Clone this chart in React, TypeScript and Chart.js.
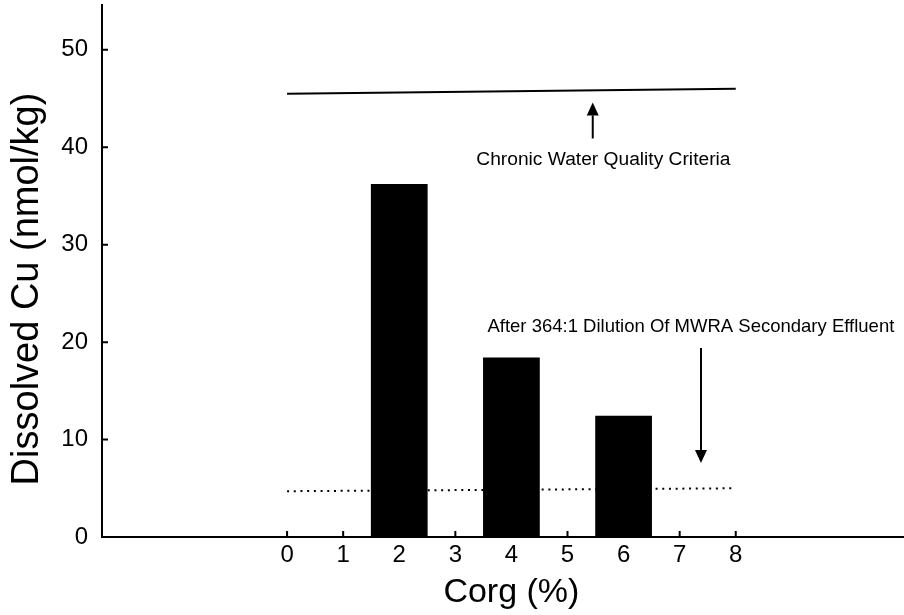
import React, { useEffect, useRef } from "react";
import { Chart, registerables } from "chart.js";

Chart.register(...registerables);

// ---- data ----
const corgValues = [2, 4, 6];
const dissolvedCu = [36.2, 18.4, 12.4];
const xTickValues = [0, 1, 2, 3, 4, 5, 6, 7, 8];
const yTickValues = [0, 10, 20, 30, 40, 50];
const criteriaX = [0, 8];
const criteriaY = [45.5, 46.0];
const effluentX = [0, 8];
const effluentY = [4.7, 5.0];

const xTitle = "Corg (%)";
const yTitle = "Dissolved Cu (nmol/kg)";
const criteriaLabel = "Chronic Water Quality Criteria";
const effluentLabel = "After 364:1 Dilution Of MWRA Secondary Effluent";

// annotation placement (data coordinates) and font size
const annotationLayout = [
  { text: criteriaLabel, size: 19.2, x: 5.64, y: 38.7, arrowX: 5.45, arrowFrom: 40.9, arrowTo: 44.6 },
  { text: effluentLabel, size: 18.5, x: 7.2, y: 21.6, arrowX: 7.38, arrowFrom: 19.4, arrowTo: 7.6 },
];

const FONT = "'Liberation Sans', Arial, Helvetica, sans-serif";

const overlayPlugin = {
  id: "overlay",
  beforeDatasetsDraw(chart: any) {
    const { ctx, chartArea, scales } = chart;
    const xs = scales.x;
    const ys = scales.y;
    ctx.save();
    ctx.strokeStyle = "#000";
    ctx.lineWidth = 2;
    ctx.beginPath();
    xTickValues.forEach((v) => {
      const px = xs.getPixelForValue(v);
      ctx.moveTo(px, chartArea.bottom);
      ctx.lineTo(px, chartArea.bottom - 6);
    });
    yTickValues.forEach((v) => {
      const py = ys.getPixelForValue(v);
      ctx.moveTo(chartArea.left, py);
      ctx.lineTo(chartArea.left + 6, py);
    });
    ctx.stroke();
    ctx.restore();
  },
  afterDraw(chart: any) {
    const { ctx, chartArea, scales } = chart;
    const xs = scales.x;
    const ys = scales.y;
    ctx.save();
    ctx.fillStyle = "#000";
    ctx.strokeStyle = "#000";
    // annotations
    annotationLayout.forEach((a) => {
      ctx.font = `${a.size}px ${FONT}`;
      ctx.textAlign = "center";
      ctx.textBaseline = "middle";
      ctx.fillText(a.text, xs.getPixelForValue(a.x), ys.getPixelForValue(a.y));
      const ax = xs.getPixelForValue(a.arrowX);
      const y0 = ys.getPixelForValue(a.arrowFrom);
      const y1 = ys.getPixelForValue(a.arrowTo);
      const dir = y1 < y0 ? -1 : 1;
      const head = 13;
      ctx.lineWidth = 2;
      ctx.beginPath();
      ctx.moveTo(ax, y0);
      ctx.lineTo(ax, y1 - dir * head);
      ctx.stroke();
      ctx.beginPath();
      ctx.moveTo(ax, y1);
      ctx.lineTo(ax - 6, y1 - dir * head);
      ctx.lineTo(ax + 6, y1 - dir * head);
      ctx.closePath();
      ctx.fill();
    });
    // axis titles
    ctx.font = `34px ${FONT}`;
    ctx.textAlign = "center";
    ctx.textBaseline = "middle";
    ctx.fillText(xTitle, xs.getPixelForValue(4), chartArea.bottom + 56);
    ctx.save();
    ctx.translate(28, (chartArea.top + chartArea.bottom) / 2 + 18);
    ctx.rotate(-Math.PI / 2);
    ctx.font = `38px ${FONT}`;
    ctx.fillText(yTitle, 0, 0);
    ctx.restore();
    ctx.restore();
  },
};

export default function App() {
  const canvasRef = useRef<HTMLCanvasElement | null>(null);

  useEffect(() => {
    document.body.style.margin = "0";
    const canvas = canvasRef.current;
    if (!canvas) return;
    const chart = new Chart(canvas, {
      type: "bar",
      data: {
        datasets: [
          {
            type: "bar",
            data: corgValues.map((x, i) => ({ x, y: dissolvedCu[i] })),
            backgroundColor: "#000",
            borderWidth: 0,
            barPercentage: 1,
            categoryPercentage: 1,
          } as any,
          {
            type: "line",
            data: criteriaX.map((x, i) => ({ x, y: criteriaY[i] })),
            borderColor: "#000",
            borderWidth: 2,
            pointRadius: 0,
            fill: false,
          },
          {
            type: "line",
            data: effluentX.map((x, i) => ({ x, y: effluentY[i] })),
            borderColor: "#000",
            borderWidth: 2,
            borderDash: [2, 4.7],
            pointRadius: 0,
            fill: false,
          },
        ],
      },
      options: {
        responsive: false,
        animation: false,
        devicePixelRatio: 1,
        layout: { padding: { top: 5, right: 0, bottom: 0, left: 0 } },
        plugins: { legend: { display: false }, tooltip: { enabled: false } },
        scales: {
          x: {
            type: "linear",
            min: -3.3,
            max: 11,
            offset: false,
            grid: { display: false, drawTicks: false },
            border: { display: true, color: "#000", width: 2 },
            afterBuildTicks: (scale: any) => {
              scale.ticks = xTickValues.map((v) => ({ value: v }));
            },
            afterFit: (scale: any) => {
              scale.height = 78;
              scale.paddingLeft = 0;
              scale.paddingRight = 0;
              scale.paddingTop = 0;
              scale.paddingBottom = 0;
            },
            ticks: {
              color: "#000",
              font: { family: FONT, size: 24 },
              padding: 4,
              maxRotation: 0,
              autoSkip: false,
            },
          },
          y: {
            type: "linear",
            min: 0,
            max: 54.6,
            grid: { display: false, drawTicks: false },
            border: { display: true, color: "#000", width: 2 },
            afterBuildTicks: (scale: any) => {
              scale.ticks = yTickValues.map((v) => ({ value: v }));
            },
            afterFit: (scale: any) => {
              scale.width = 102;
              scale.paddingLeft = 0;
              scale.paddingRight = 0;
              scale.paddingTop = 0;
              scale.paddingBottom = 0;
            },
            ticks: {
              color: "#000",
              font: { family: FONT, size: 24 },
              padding: 14,
            },
          },
        },
      },
      plugins: [overlayPlugin],
    });
    return () => chart.destroy();
  }, []);

  return (
    <div style={{ width: 904, height: 615, background: "#fff" }}>
      <canvas ref={canvasRef} width={904} height={615} />
    </div>
  );
}
